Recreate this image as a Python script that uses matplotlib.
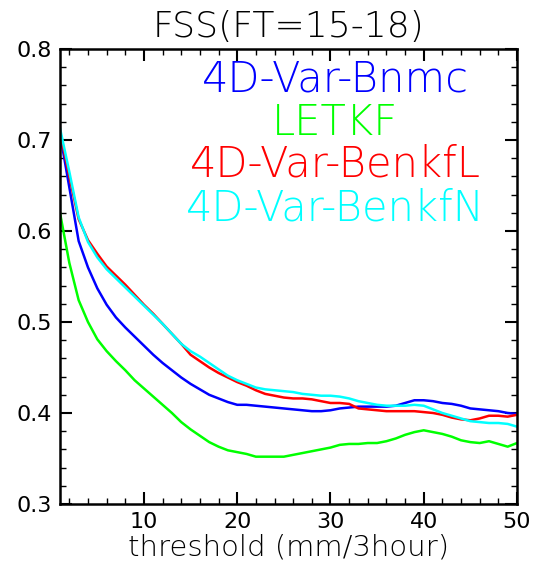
import numpy as np
import matplotlib
matplotlib.use("Agg")
import matplotlib.pyplot as plt
from matplotlib.ticker import MultipleLocator

# threshold (mm/3hour)
threshold = np.arange(1, 51)

# FSS values
fss_bnmc = [0.707, 0.648, 0.589, 0.560, 0.537, 0.519, 0.505, 0.494, 0.484, 0.474,
            0.464, 0.455, 0.447, 0.439, 0.432, 0.426, 0.420, 0.416, 0.412, 0.409,
            0.409, 0.408, 0.407, 0.406, 0.405, 0.404, 0.403, 0.402, 0.402, 0.403,
            0.405, 0.406, 0.407, 0.407, 0.407, 0.407, 0.408, 0.411, 0.414, 0.414,
            0.413, 0.411, 0.410, 0.408, 0.405, 0.404, 0.403, 0.402, 0.400, 0.399]
fss_letkf = [0.620, 0.565, 0.524, 0.500, 0.481, 0.468, 0.457, 0.447, 0.436, 0.427,
             0.418, 0.409, 0.400, 0.390, 0.382, 0.375, 0.368, 0.363, 0.359, 0.357,
             0.355, 0.352, 0.352, 0.352, 0.352, 0.354, 0.356, 0.358, 0.360, 0.362,
             0.365, 0.366, 0.366, 0.367, 0.367, 0.369, 0.372, 0.376, 0.379, 0.381,
             0.379, 0.377, 0.374, 0.370, 0.368, 0.367, 0.369, 0.366, 0.363, 0.367]
fss_benkfl = [0.709, 0.660, 0.613, 0.590, 0.575, 0.561, 0.551, 0.541, 0.530, 0.519,
              0.509, 0.498, 0.487, 0.476, 0.464, 0.457, 0.450, 0.444, 0.439, 0.434,
              0.430, 0.425, 0.421, 0.419, 0.417, 0.416, 0.416, 0.415, 0.413, 0.411,
              0.411, 0.410, 0.405, 0.404, 0.403, 0.402, 0.402, 0.402, 0.402, 0.401,
              0.400, 0.398, 0.395, 0.393, 0.392, 0.394, 0.397, 0.397, 0.396, 0.398]
fss_benkfn = [0.713, 0.665, 0.615, 0.588, 0.571, 0.558, 0.548, 0.538, 0.528, 0.518,
              0.508, 0.498, 0.487, 0.476, 0.468, 0.462, 0.455, 0.448, 0.441, 0.436,
              0.432, 0.428, 0.426, 0.425, 0.424, 0.423, 0.421, 0.420, 0.419, 0.419,
              0.418, 0.416, 0.413, 0.411, 0.409, 0.408, 0.408, 0.408, 0.409, 0.408,
              0.404, 0.400, 0.397, 0.394, 0.391, 0.390, 0.389, 0.389, 0.388, 0.385]

names = ['4D-Var-Bnmc', 'LETKF', '4D-Var-BenkfL', '4D-Var-BenkfN']
colors = ['#0000ff', '#00ff00', '#ff0000', '#00ffff']
series = [fss_bnmc, fss_letkf, fss_benkfl, fss_benkfn]

plt.rcParams['font.family'] = 'DejaVu Sans'

fig = plt.figure(figsize=(5.35, 5.63), dpi=100)
ax = fig.add_axes([60/535, 59/563, 457/535, 455/563])

for y, c in zip(series, colors):
    ax.plot(threshold, y, color=c, lw=1.8)

# legend as coloured text lines
ypos = [0.9055, 0.811, 0.7187, 0.624]
for name, c, yp in zip(names, colors, ypos):
    ax.text(0.602, yp, name, color=c, fontsize=30, fontweight=200,
            ha='center', va='baseline', transform=ax.transAxes)

ax.set_xlim(1, 50)
ax.set_ylim(0.3, 0.8)
ax.xaxis.set_major_locator(MultipleLocator(10))
ax.xaxis.set_minor_locator(MultipleLocator(2))
ax.yaxis.set_major_locator(MultipleLocator(0.1))
ax.yaxis.set_minor_locator(MultipleLocator(0.02))
ax.tick_params(which='both', direction='in', top=True, right=True, labelsize=16)
ax.tick_params(which='major', length=8.5, width=1.5, pad=6)
ax.tick_params(which='minor', length=4.5, width=1)
for s in ax.spines.values():
    s.set_linewidth(1.8)

ax.set_xlabel('threshold (mm/3hour)', fontsize=21, fontweight=200, labelpad=1)
ax.set_title('FSS(FT=15-18)', fontsize=26, fontweight=200, pad=9)

plt.savefig('out.png', dpi=100)
